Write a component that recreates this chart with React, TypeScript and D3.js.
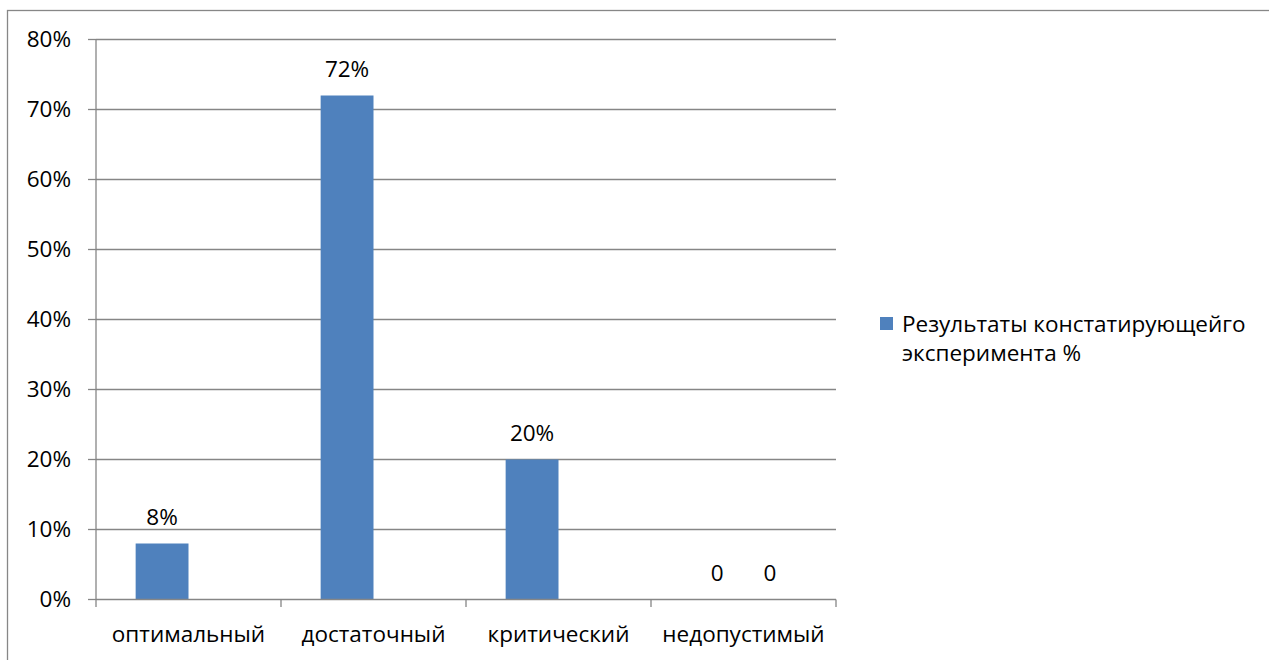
import React from "react";
import * as d3 from "d3";

// Categories and values (percent)
const categories = ["оптимальный", "достаточный", "критический", "недопустимый"];
const seriesMain: (number | null)[] = [8, 72, 20, 0];
const seriesExtra: (number | null)[] = [null, null, null, 0];
const yTicks = [0, 10, 20, 30, 40, 50, 60, 70, 80];
const legendLines = ["Результаты констатирующейго", "эксперимента %"];

const W = 1269;
const H = 660;
const FONT = "'Open Sans', 'Liberation Sans', sans-serif";
const FS = 22.5;
const BAR = "#4F81BD";
const GRID = "#868686";

const plot = { left: 96, right: 836, top: 39.5, bottom: 599.5 };

const fmt = (v: number) => (v === 0 ? "0" : `${v}%`);

export default function App() {
  const x = d3
    .scaleBand<string>()
    .domain(categories)
    .range([plot.left, plot.right])
    .paddingInner(0)
    .paddingOuter(0);
  const y = d3.scaleLinear().domain([0, 80]).range([plot.bottom, plot.top]);

  const band = x.bandwidth();
  // two series per category, gap width 150% of a bar
  const barW = band / 3.5;
  const offset = (i: number) => barW * 0.75 + i * barW;

  const series = [seriesMain, seriesExtra];

  return (
    <svg
      width={W}
      height={H}
      style={{ position: "absolute", left: 0, top: 0, background: "#fff" }}
      fontFamily={FONT}
    >
      {/* outer frame */}
      <rect x={7.5} y={10.5} width={W + 20} height={H + 20} fill="none" stroke="#878787" strokeWidth={1.3} />

      {/* gridlines and y ticks */}
      {yTicks.map((t) => (
        <g key={t}>
          {t > 0 && (
            <line x1={plot.left} x2={plot.right} y1={y(t)} y2={y(t)} stroke={GRID} strokeWidth={1.3} />
          )}
          <line x1={88} x2={plot.left} y1={y(t)} y2={y(t)} stroke={GRID} strokeWidth={1.3} />
          <text x={71} y={y(t) + 7.8} textAnchor="end" fontSize={FS} fill="#000">
            {`${t}%`}
          </text>
        </g>
      ))}

      {/* y axis */}
      <line x1={plot.left} x2={plot.left} y1={plot.top} y2={607} stroke={GRID} strokeWidth={1.3} />

      {/* bars */}
      {series.map((s, si) =>
        s.map((v, ci) =>
          v === null ? null : (
            <rect
              key={`b${si}-${ci}`}
              x={(x(categories[ci]) as number) + offset(si)}
              y={y(v)}
              width={barW}
              height={plot.bottom - y(v)}
              fill={BAR}
            />
          )
        )
      )}

      {/* x axis */}
      <line x1={plot.left} x2={plot.right} y1={plot.bottom} y2={plot.bottom} stroke={GRID} strokeWidth={1.3} />
      {categories.map((c) => (
        <line
          key={`t${c}`}
          x1={(x(c) as number) + band}
          x2={(x(c) as number) + band}
          y1={plot.bottom}
          y2={607}
          stroke={GRID}
          strokeWidth={1.3}
        />
      ))}

      {/* category labels */}
      {categories.map((c) => (
        <text
          key={`l${c}`}
          x={(x(c) as number) + band / 2}
          y={642}
          textAnchor="middle"
          fontSize={FS}
          fill="#000"
        >
          {c}
        </text>
      ))}

      {/* data labels */}
      {series.map((s, si) =>
        s.map((v, ci) =>
          v === null ? null : (
            <text
              key={`d${si}-${ci}`}
              x={(x(categories[ci]) as number) + offset(si) + barW / 2}
              y={y(v) - 19}
              textAnchor="middle"
              fontSize={FS}
              fill="#000"
            >
              {fmt(v)}
            </text>
          )
        )
      )}

      {/* legend */}
      <rect x={880} y={317} width={13} height={13} fill={BAR} />
      {legendLines.map((l, i) => (
        <text key={l} x={902} y={332 + i * 28.5} fontSize={FS} fill="#000">
          {l}
        </text>
      ))}
    </svg>
  );
}
